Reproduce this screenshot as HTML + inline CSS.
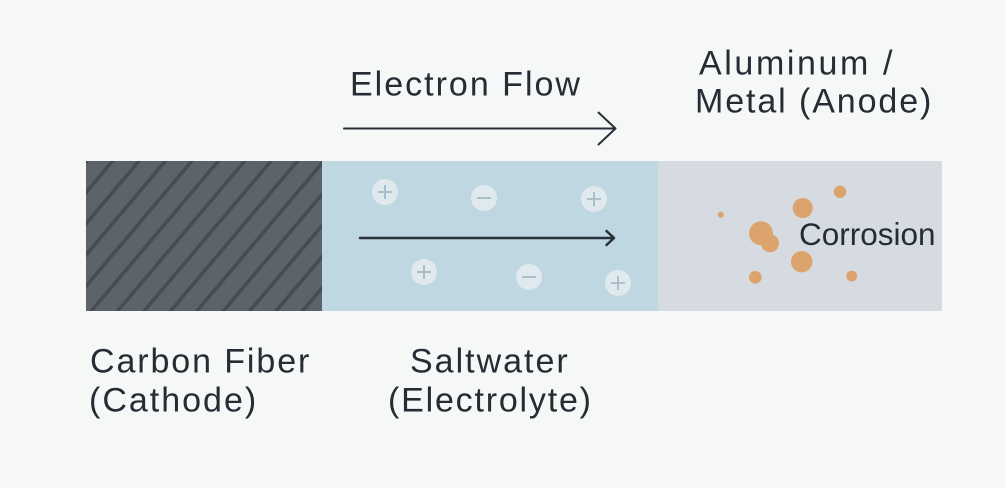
<!DOCTYPE html>
<html>
<head>
<meta charset="utf-8">
<style>
  html, body { margin: 0; padding: 0; background: #f6f7f7; }
  body { width: 1006px; height: 488px; overflow: hidden; }
  svg { display: block; }
  text { font-family: "Liberation Sans", "DejaVu Sans", sans-serif; fill: #262c34; }
</style>
</head>
<body>
<svg width="1006" height="488" viewBox="0 0 1006 488" xmlns="http://www.w3.org/2000/svg">
  <defs>
    <clipPath id="cclip"><rect x="86" y="161" width="236" height="150"/></clipPath>
  </defs>

  <rect x="0" y="0" width="1006" height="488" fill="#f6f7f7"/>

  <!-- Carbon fiber block -->
  <rect x="86" y="161" width="236" height="150" fill="#5c636b"/>
  <g clip-path="url(#cclip)" stroke="#464c53" stroke-width="3.6" fill="none">
    <path d="M90.5 156 L-44.9 316 M116.9 156 L-18.5 316 M143.3 156 L7.9 316 M169.7 156 L34.3 316 M196.1 156 L60.7 316 M222.5 156 L87.1 316 M248.9 156 L113.5 316 M275.3 156 L139.9 316 M301.7 156 L166.3 316 M328.1 156 L192.7 316 M354.5 156 L219.1 316 M380.9 156 L245.5 316 M407.3 156 L271.9 316 M433.7 156 L298.3 316 M460.1 156 L324.7 316"/>
  </g>
  <!-- Electrolyte -->
  <rect x="322" y="161" width="336" height="150" fill="#bfd7e0"/>
  <!-- Metal -->
  <rect x="658" y="161" width="284" height="150" fill="#d5dbe0"/>

  <!-- Ions -->
  <g fill="#dfe9ee">
    <circle cx="385" cy="192" r="13"/>
    <circle cx="484" cy="198" r="13"/>
    <circle cx="594" cy="199" r="13"/>
    <circle cx="424" cy="272" r="13"/>
    <circle cx="529" cy="277" r="13"/>
    <circle cx="618" cy="283" r="13"/>
  </g>
  <g stroke="#a3bbc6" stroke-width="1.8" fill="none">
    <path d="M378 192 H392 M385 185 V199"/>
    <path d="M477 198 H491"/>
    <path d="M587 199 H601 M594 192 V206"/>
    <path d="M417 272 H431 M424 265 V279"/>
    <path d="M522 277 H536"/>
    <path d="M611 283 H625 M618 276 V290"/>
  </g>

  <!-- Inner arrow -->
  <g stroke="#2a3038" stroke-width="2.5" fill="none" stroke-linecap="round" stroke-linejoin="round">
    <path d="M360 238 H613"/>
    <path d="M606.5 231 L614 238 L606.5 245"/>
  </g>

  <!-- Top arrow -->
  <g stroke="#2a3038" stroke-width="2" fill="none" stroke-linecap="round" stroke-linejoin="round">
    <path d="M344 128.5 H615"/>
    <path d="M598.5 112.5 L615.5 128.5 L598.5 144.5"/>
  </g>

  <!-- Corrosion dots -->
  <g fill="#dca36c">
    <circle cx="720.7" cy="214.7" r="3"/>
    <circle cx="761" cy="233.3" r="12"/>
    <circle cx="770" cy="243.3" r="9"/>
    <circle cx="802.7" cy="208" r="10"/>
    <circle cx="840" cy="191.7" r="6.3"/>
    <circle cx="801.7" cy="261.7" r="10.7"/>
    <circle cx="755.3" cy="277.3" r="6.3"/>
    <circle cx="851.7" cy="276" r="5.4"/>
  </g>

  <!-- Labels -->
  <text x="350" y="95.7" font-size="34" letter-spacing="2">Electron Flow</text>
  <text x="699" y="74.3" font-size="34" letter-spacing="2.6">Aluminum /</text>
  <text x="695" y="112.3" font-size="34" letter-spacing="1.9">Metal (Anode)</text>
  <text x="799" y="245" font-size="31.5">Corrosion</text>
  <text x="90" y="372.3" font-size="34" letter-spacing="1.9">Carbon Fiber</text>
  <text x="89" y="411.7" font-size="34" letter-spacing="2">(Cathode)</text>
  <text x="410" y="372.3" font-size="34" letter-spacing="2">Saltwater</text>
  <text x="388" y="411.7" font-size="34" letter-spacing="1.8">(Electrolyte)</text>
</svg>
</body>
</html>
